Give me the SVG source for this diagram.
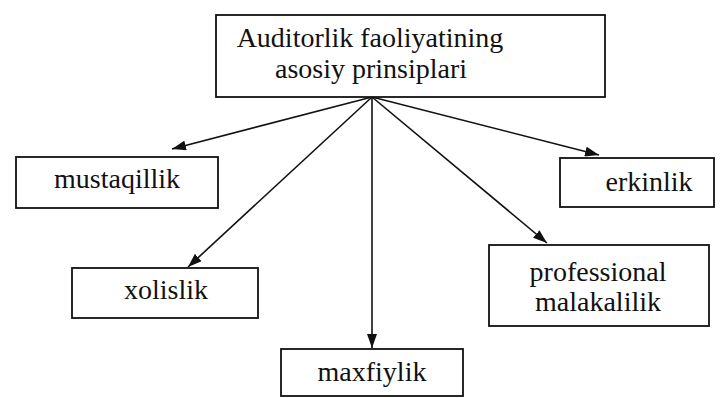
<svg xmlns="http://www.w3.org/2000/svg" width="721" height="398" viewBox="0 0 721 398">
  <style>
    .box { fill: #ffffff; stroke: #111111; stroke-width: 1.8; }
    .edge { stroke: #111111; stroke-width: 1.6; fill: none; marker-end: url(#arrow); }
    .lbl { font-family: 'Liberation Serif', 'Times New Roman', Times, 'DejaVu Serif', serif; font-size: 28px; fill: #111111; text-anchor: middle; }
  </style>
  <defs>
    <marker id="arrow" viewBox="0 0 14 10" refX="14" refY="5" markerWidth="14" markerHeight="10" markerUnits="userSpaceOnUse" orient="auto">
      <path d="M0,0 L14,5 L0,10 Z" fill="#111111"/>
    </marker>
  </defs>
  <rect width="721" height="398" fill="#ffffff"/>

  <g id="connectors">
    <line class="edge" x1="372" y1="97" x2="172" y2="149"/>
    <line class="edge" x1="372" y1="97" x2="188" y2="267"/>
    <line class="edge" x1="372" y1="97" x2="372" y2="348"/>
    <line class="edge" x1="372" y1="97" x2="547" y2="243"/>
    <line class="edge" x1="372" y1="97" x2="599" y2="155"/>
  </g>

  <g id="principles">
    <rect class="box" x="216" y="15" width="389" height="82"/>
    <text class="lbl" x="370" y="47">Auditorlik faoliyatining</text>
    <text class="lbl" x="371" y="78">asosiy prinsiplari</text>
  </g>

  <g id="mustaqillik">
    <rect class="box" x="16" y="157" width="202" height="51"/>
    <text class="lbl" x="117" y="188">mustaqillik</text>
  </g>

  <g id="xolislik">
    <rect class="box" x="72" y="268" width="186" height="50"/>
    <text class="lbl" x="166" y="299">xolislik</text>
  </g>

  <g id="maxfiylik">
    <rect class="box" x="281" y="349" width="182" height="47"/>
    <text class="lbl" x="372" y="381">maxfiylik</text>
  </g>

  <g id="professional">
    <rect class="box" x="489" y="245" width="220" height="81"/>
    <text class="lbl" x="598" y="281">professional</text>
    <text class="lbl" x="598" y="311">malakalilik</text>
  </g>

  <g id="erkinlik">
    <rect class="box" x="560" y="158" width="154" height="49"/>
    <text class="lbl" x="649" y="191">erkinlik</text>
  </g>
</svg>
